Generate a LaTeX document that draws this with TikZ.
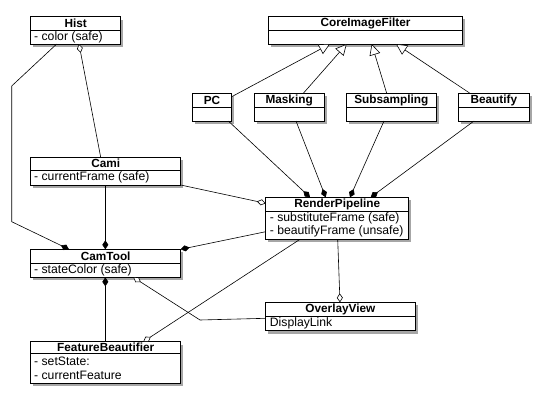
\documentclass[tikz,border=0pt]{standalone}
\usepackage{fontspec}
\setmainfont{Liberation Sans}
\usetikzlibrary{arrows.meta,shadows,calc}
\tikzset{
  cls/.style={draw, line width=0.9pt, fill=white, anchor=north west, inner sep=0pt, outer sep=0pt,
    drop shadow={shadow xshift=2.5pt, shadow yshift=-3pt, opacity=0.35, fill=black}},
  hdr/.style={font=\bfseries\fontsize{11.8}{13}\selectfont, inner sep=0pt},
  attr/.style={font=\fontsize{12.2}{13}\selectfont, anchor=west, inner sep=0pt},
  conn/.style={line width=0.6pt},
  comp/.style={conn, -{Diamond[fill=black, length=9pt, width=6pt]}},
  aggr/.style={conn, -{Diamond[open, fill=white, length=9pt, width=6pt]}},
  gen/.style={conn, -{Triangle[open, fill=white, length=11pt, width=11pt]}}
}
\newcommand\umlclass[7]{%
  \node[cls, minimum width=#4pt, minimum height=#5pt] (#1) at (#2,#3) {};
  \draw[line width=0.9pt] ($(#1.north west)+(0,#6)$) -- ($(#1.north east)+(0,#6)$);
  \node[hdr] (#1-t) at ($(#1.north)+(0,#6/2)$) {#7};
}
\begin{document}
\begin{tikzpicture}[x=1pt,y=-1pt]
\path[use as bounding box, fill=white] (0,0) rectangle (549,407);

\umlclass{hist}{30.7}{16.5}{90}{27.5}{14.2}{Hist}
\node[attr] (hist-a) at (34,37.4) {- color (safe)};

\umlclass{cif}{268.3}{16}{194.4}{28}{14}{CoreImageFilter}

\umlclass{pc}{192.3}{93.3}{39.4}{27.7}{14}{PC}
\umlclass{mask}{254}{93.3}{70.3}{27.7}{14}{Masking}
\umlclass{sub}{346}{93.3}{90.7}{27.7}{14}{Subsampling}
\umlclass{beau}{458.3}{93.3}{71}{27.7}{14}{Beautify}

\umlclass{cami}{30.7}{157.3}{150}{27.7}{12.7}{Cami}
\node[attr] (cami-a) at (34,177.6) {- currentFrame (safe)};

\umlclass{rp}{265.7}{197.3}{143}{42}{14.4}{RenderPipeline}
\node[attr] (rp-a1) at (269.7,217.9) {- substituteFrame (safe)};
\node[attr] (rp-a2) at (269.7,231.7) {- beautifyFrame (unsafe)};

\umlclass{cam}{30.7}{249.3}{150}{28}{14}{CamTool}
\node[attr] (cam-a) at (34,270.3) {- stateColor (safe)};

\umlclass{ov}{265.7}{302.3}{149.3}{28.4}{14}{OverlayView}
\node[attr] (ov-a) at (269.7,323.5) {DisplayLink};

\umlclass{fb}{30.7}{341.7}{150}{41.6}{11.6}{FeatureBeautifier}
\node[attr] (fb-a1) at (34,361.7) {- setState:};
\node[attr] (fb-a2) at (34,375) {- currentFeature};

% bend points
\coordinate (b1) at (11.7,86);
\coordinate (b2) at (11.7,221.7);
\coordinate (b3) at (200,320);

% connectors
\draw[comp] ($(hist.south west)+(26,0)$) -- (b1) -- (b2) -- ($(cam.north west)+(38.3,0)$);
\draw[aggr] ($(cami.north west)+(70,0)$) -- ($(hist.south west)+(48.3,0)$);
\draw[comp] ($(cami.south west)+(74.6,0)$) -- ($(cam.north west)+(74.6,0)$);
\draw[aggr] (cami.south east) -- ($(rp.north west)+(0,6)$);
\draw[comp] ($(rp.north west)+(0,34.4)$) -- (cam.north east);

\draw[comp] ($(pc.south west)+(36,0)$) -- ($(rp.north west)+(44.3,0)$);
\draw[comp] ($(mask.south west)+(42,0)$) -- ($(rp.north west)+(60,0)$);
\draw[comp] ($(sub.south west)+(38,0)$) -- ($(rp.north west)+(84.3,0)$);
\draw[comp] ($(beau.south west)+(15.7,0)$) -- ($(rp.north west)+(105,0)$);

\draw[gen] ($(pc.north east)+(0,3.4)$) -- ($(cif.south west)+(61.7,0)$);
\draw[gen] ($(mask.north west)+(49.3,0)$) -- ($(cif.south west)+(78.4,0)$);
\draw[gen] ($(sub.north west)+(40.7,0)$) -- ($(cif.south west)+(103.4,0)$);
\draw[gen] ($(beau.north west)+(11.7,0)$) -- ($(cif.south west)+(127.7,0)$);

\draw[aggr] ($(rp.south west)+(72,0)$) -- ($(ov.north west)+(74.3,0)$);
\draw[aggr] ($(rp.south west)+(34.3,0)$) -- ($(fb.north west)+(112.6,0)$);
\draw[aggr] ($(ov.north west)+(0,16)$) -- (b3) -- ($(cam.south west)+(102.6,0)$);
\draw[comp] ($(fb.north west)+(74.6,0)$) -- ($(cam.south west)+(74.6,0)$);
\end{tikzpicture}
\end{document}
